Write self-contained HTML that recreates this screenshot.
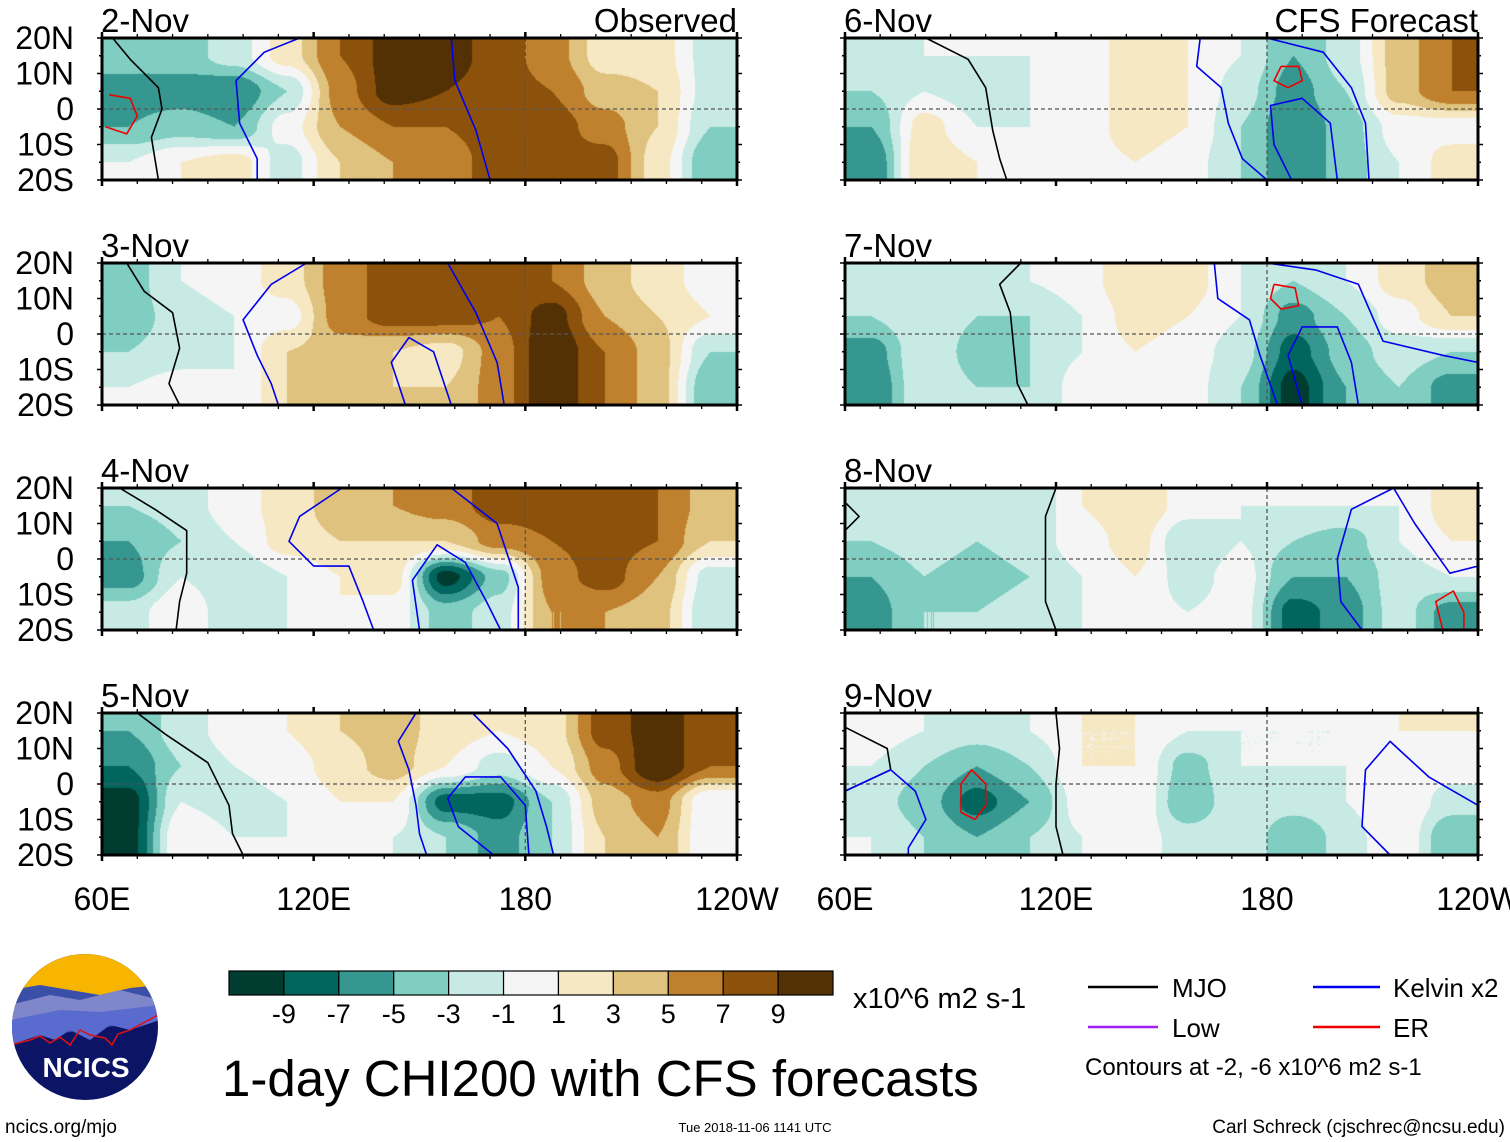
<!DOCTYPE html>
<html><head><meta charset="utf-8">
<style>
html,body{margin:0;padding:0;background:#fff;}
#root{position:relative;width:1510px;height:1142px;overflow:hidden;font-family:"Liberation Sans",sans-serif;}
svg text{font-family:"Liberation Sans",sans-serif;}
</style></head>
<body>
<div id="root">
<svg id="fig" width="1510" height="1142" xmlns="http://www.w3.org/2000/svg"></svg>
</div>
<script>
// ---- data ----
const levels = [-9,-7,-5,-3,-1,1,3,5,7,9];
const levelLabels = ["-9","-7","-5","-3","-1","1","3","5","7","9"];
const colors = ["#003c30","#01665e","#35978f","#80cdc1","#c7eae5","#f5f5f5","#f6e8c3","#dfc27d","#bf812d","#8c510a","#543005"];
const panelDates = ["2-Nov","3-Nov","4-Nov","5-Nov","6-Nov","7-Nov","8-Nov","9-Nov"];
const lonTicks = [60,120,180,240];
const lonTickLabels = ["60E","120E","180","120W"];
const latTicks = [20,10,0,-10,-20];
const latTickLabels = ["20N","10N","0","10S","20S"];
// grid: 12 columns (60E..240E, 15deg each), 4 rows (15N,5N,5S,15S)
const field2Nov = [[-4,-4,-2,2,7,10,10,8,6,2,2,-2],[-6,-6,-7,-3,6,10,9,8,7,4,3,-2],[-5,-4,-5,0,5,7,7,8,8,6,3,-3],[-1,1,2,-2,3,5,6,8,8,8,2,-5]];
const field3Nov = [[-4,-1,0,2,6,8,8,8,7,4,2,0],[-4,-2,-1,0,6,8,8,7,10,5,3,1],[-3,-2,-1,3,4,3,2,6,11,7,4,-3],[-1,0,-1,3,5,3,3,6,11,7,4,-5]];
const field4Nov = [[-3,-2,0,2,4,5,6,8,8,8,7,4],[-5,-3,-1,2,3,3,3,6,7,8,7,3],[-6,-1,-3,-1,1,2,-10,-4,6,8,5,-2],[-2,1,-3,-1,1,0,-4,-2,5,5,4,-3]];
const field5Nov = [[-5,-2,0,1,3,4,2,1,2,8,10,8],[-7,-3,-1,0,2,4,1,-2,1,6,11,7],[-10,-1,-2,-1,1,1,-8,-8,-3,4,6,-1],[-10,1,-1,-1,0,-1,-3,-6,-3,3,5,-1]];
const field6Nov = [[-2,-1,-1,-1,0,2,1,-1,-5,-2,4,7],[-3,-1,-2,-1,0,2,1,-2,-6,-3,4,7],[-5,2,-1,-1,0,2,1,-3,-7,-4,0,0],[-7,3,1,-1,0,1,0,-3,-7,-4,-1,2]];
const field7Nov = [[-2,-1,-3,-1,0,3,2,-1,-3,-1,2,4],[-3,-1,-3,-3,-1,2,1,-1,-6,-3,0,3],[-6,-1,-4,-3,-1,1,0,-2,-8,-4,-2,-3],[-7,-1,-3,-3,0,1,0,-3,-10,-5,-3,-6]];
const field8Nov = [[-2,-1,-2,-3,1,3,0,-1,-1,-1,-1,2],[-3,-2,-3,-2,0,2,-3,-1,-3,-4,-1,1],[-5,-3,-4,-3,-1,1,-2,0,-5,-5,-2,-1],[-6,-3,-3,-2,-1,0,-1,0,-8,-6,-2,-6]];
const field9Nov = [[0,-1,-2,-1,1,1,-1,-1,-1,-1,1,1],[-1,-3,-5,-3,1,1,-4,-1,-1,-1,1,0],[-2,-4,-8,-5,0,1,-5,-1,-2,-1,1,-2],[-1,-3,-5,-3,-1,0,-2,-1,-5,-2,1,-5]];
const fields = [field2Nov,field3Nov,field4Nov,field5Nov,field6Nov,field7Nov,field8Nov,field9Nov];
// contours [type, [[lon,lat],...]]
const contours2Nov = [["mjo",[[63,20],[68,14],[76,6],[77,0],[74,-8],[76,-20]]],["kelvin",[[116,20],[106,16],[98,8],[99,-4],[104,-14],[104,-20]]],["kelvin",[[159,20],[160,8],[166,-6],[170,-20]]],["er",[[62,4],[68,3],[70,-2],[67,-7],[61,-5]]]];
const contours3Nov = [["mjo",[[67,20],[72,12],[80,6],[82,-4],[79,-14],[82,-20]]],["kelvin",[[118,20],[108,14],[100,4],[104,-6],[108,-14],[110,-20]]],["kelvin",[[158,20],[166,6],[172,-8],[174,-20]]],["kelvin",[[146,-20],[142,-8],[147,-1],[154,-5],[159,-20]]]];
const contours4Nov = [["mjo",[[65,20],[75,14],[84,8],[84,-4],[82,-12],[81,-20]]],["kelvin",[[128,20],[116,12],[113,5],[120,-2],[130,-2],[134,-12],[137,-20]]],["kelvin",[[159,20],[172,10],[178,-8],[178,-20]]],["kelvin",[[150,-20],[148,-6],[155,4],[163,-1],[169,-12],[173,-20]]]];
const contours5Nov = [["mjo",[[70,20],[78,14],[90,6],[96,-6],[97,-14],[100,-20]]],["kelvin",[[149,20],[144,12],[147,4],[149,-6],[150,-14],[152,-20]]],["kelvin",[[165,20],[175,10],[183,-2],[186,-12],[188,-20]]],["kelvin",[[171,-20],[161,-12],[158,-4],[163,2],[173,2],[180,-6],[181,-20]]]];
const contours6Nov = [["mjo",[[83,20],[95,14],[100,6],[102,-6],[104,-14],[106,-20]]],["kelvin",[[161,20],[160,12],[167,6],[169,-4],[173,-14],[180,-20]]],["kelvin",[[187,-20],[182,-10],[181,1],[190,3],[198,-4],[200,-20]]],["kelvin",[[180,20],[196,16],[204,6],[208,-4],[209,-20]]],["er",[[184,12],[189,12],[190,8],[186,6],[182,8],[184,12]]]];
const contours7Nov = [["mjo",[[110,20],[104,14],[107,6],[108,-4],[109,-14],[112,-20]]],["kelvin",[[165,20],[166,10],[175,4],[178,-6],[183,-20]]],["kelvin",[[190,-20],[186,-6],[190,2],[200,2],[204,-8],[206,-20]]],["kelvin",[[180,20],[194,18],[206,14],[213,-2],[230,-6],[240,-8]]],["er",[[182,14],[188,13],[189,8],[184,7],[181,10],[182,14]]]];
const contours8Nov = [["mjo",[[120,20],[117,12],[117,0],[117,-12],[120,-20]]],["mjo",[[60,16],[64,12],[60,8]]],["kelvin",[[216,20],[204,14],[200,0],[201,-12],[207,-20]]],["kelvin",[[216,20],[222,10],[232,-4],[240,-2]]],["er",[[230,-20],[228,-12],[233,-9],[236,-15],[236,-20]]]];
const contours9Nov = [["mjo",[[120,20],[121,10],[120,0],[120,-12],[122,-20]]],["mjo",[[60,16],[72,10],[73,4],[60,-2]]],["kelvin",[[60,-2],[73,4],[80,-2],[83,-10],[78,-18],[78,-20]]],["kelvin",[[215,-20],[207,-12],[208,4],[215,12],[226,2],[240,-6]]],["er",[[97,-10],[100,-6],[100,0],[96,4],[93,0],[93,-8],[97,-10]]]];
const contoursAll = [contours2Nov,contours3Nov,contours4Nov,contours5Nov,contours6Nov,contours7Nov,contours8Nov,contours9Nov];
const contourColors = {mjo:"#000",kelvin:"#0000ee",er:"#ee0000",low:"#a020f0"};

// ---- layout ----
const NS="http://www.w3.org/2000/svg";
const svg=document.getElementById('fig');
const colX=[[102,737],[845,1478]];
const rowTop=[38,263,488,713];
const PH=142;
function mk(tag,attrs,parent){const e=document.createElementNS(NS,tag);for(const k in attrs)e.setAttribute(k,attrs[k]);(parent||svg).appendChild(e);return e;}
function colorFor(v){let i=0;while(i<levels.length&&v>=levels[i])i++;return colors[i];}
function sample(f,gx,gy){
  gx=Math.max(0,Math.min(11,gx));gy=Math.max(0,Math.min(3,gy));
  const x0=Math.floor(gx),y0=Math.floor(gy),x1=Math.min(11,x0+1),y1=Math.min(3,y0+1);
  let fx=gx-x0,fy=gy-y0;
  fx=fx*fx*(3-2*fx);fy=fy*fy*(3-2*fy);
  return f[y0][x0]*(1-fx)*(1-fy)+f[y0][x1]*fx*(1-fy)+f[y1][x0]*(1-fx)*fy+f[y1][x1]*fx*fy;
}

for(let p=0;p<8;p++){
  const c=p<4?0:1, r=p%4;
  const x0=colX[c][0], x1=colX[c][1], W=x1-x0, top=rowTop[r];
  const xs=lon=>x0+(lon-60)/180*W;
  const ys=lat=>top+(20-lat)/40*PH;
  const g=mk('g',{});
  
  
  const fo=mk('foreignObject',{x:x0,y:top,width:W,height:PH},g);
  const cv=document.createElement('canvas');cv.width=W;cv.height=PH;
  cv.style.display='block';
  
  
  fo.appendChild(cv);
  const ctx=cv.getContext('2d');
  const f=fields[p];
  const step=1;
  for(let py=0;py<PH;py+=step){for(let px=0;px<W;px+=step){
    const v=sample(f,(px+0.5)/W*12-0.5,(py+0.5)/PH*4-0.5);
    ctx.fillStyle=colorFor(v);ctx.fillRect(px,py,step,step);
  }}
  const eq=mk('line',{x1:x0,x2:x1,y1:ys(0),y2:ys(0),stroke:'#555','stroke-dasharray':'4,3','stroke-width':1.3},g);
  
  const dl=mk('line',{x1:xs(180),x2:xs(180),y1:top,y2:top+PH,stroke:'#555','stroke-dasharray':'4,3','stroke-width':1.3},g);
  
  contoursAll[p].forEach(ct=>{
    const d=ct[1].map((q,i)=>(i?'L':'M')+xs(q[0]).toFixed(1)+' '+ys(q[1]).toFixed(1)).join(' ');
    const pe=mk('path',{d:d,fill:'none',stroke:contourColors[ct[0]],'stroke-width':1.6,'stroke-linejoin':'round'},g);
    
    
  });
  const fr=mk('rect',{x:x0,y:top,width:W,height:PH,fill:'none',stroke:'#000','stroke-width':3},g);
  
  for(let lon=60;lon<=240;lon+=10){
    const maj=lonTicks.includes(lon);const L=maj?6:4;
    mk('line',{x1:xs(lon),x2:xs(lon),y1:top-L,y2:top,stroke:'#000','stroke-width':maj?2.5:1.3},g);
    mk('line',{x1:xs(lon),x2:xs(lon),y1:top+PH,y2:top+PH+L,stroke:'#000','stroke-width':maj?2.5:1.3},g);
  }
  for(let lat=-20;lat<=20;lat+=5){
    const L=lat%10===0?5:3;
    mk('line',{x1:x0-L,x2:x0,y1:ys(lat),y2:ys(lat),stroke:'#000','stroke-width':1.5},g);
    mk('line',{x1:x1,x2:x1+L,y1:ys(lat),y2:ys(lat),stroke:'#000','stroke-width':1.5},g);
  }
  const t=mk('text',{x:x0-1,y:top-6,'font-size':33},g);t.textContent=panelDates[p];
  
  if(r===0){
    const tt=mk('text',{x:x1,y:top-6,'font-size':33,'text-anchor':'end'},g);
    tt.textContent=c===0?'Observed':'CFS Forecast';
    
  }
  if(c===0){
    latTicks.forEach((lat,i)=>{
      const lt=mk('text',{x:74,y:ys(lat)+11,'font-size':32,'text-anchor':'end'},g);
      lt.textContent=latTickLabels[i];
      
    });
  }
  if(r===3){
    lonTicks.forEach((lon,i)=>{
      const xt=mk('text',{x:xs(lon),y:910,'font-size':32,'text-anchor':'middle'},g);
      xt.textContent=lonTickLabels[i];
      
    });
  }
}

const cb=mk('g',{});

const cbx=229,cbw=604/colors.length;
colors.forEach((col,i)=>{
  const rr=mk('rect',{x:cbx+i*cbw,y:971,width:cbw,height:24,fill:col,stroke:'#000','stroke-width':1.2},cb);
  
});
levelLabels.forEach((lab,i)=>{
  const tl=mk('text',{x:cbx+(i+1)*cbw,y:1023,'font-size':27,'text-anchor':'middle'},cb);
  tl.textContent=lab;
});
</script>
<svg width="1510" height="1142" style="position:absolute;left:0;top:0">
  <text x="853" y="1008" font-size="29" font-family="Liberation Sans, sans-serif">x10^6 m2 s-1</text>
  <text x="222" y="1096" font-size="51" font-family="Liberation Sans, sans-serif">1-day CHI200 with CFS forecasts</text>
  <g>
    <line x1="1088" x2="1158" y1="987" y2="987" stroke="#000" stroke-width="2.5"/>
    <text x="1172" y="997" font-size="26" font-family="Liberation Sans, sans-serif">MJO</text>
    <line x1="1313" x2="1380" y1="987" y2="987" stroke="#0000ee" stroke-width="2.5"/>
    <text x="1393" y="997" font-size="26" font-family="Liberation Sans, sans-serif">Kelvin x2</text>
    <line x1="1088" x2="1158" y1="1027" y2="1027" stroke="#a020f0" stroke-width="2.5"/>
    <text x="1172" y="1037" font-size="26" font-family="Liberation Sans, sans-serif">Low</text>
    <line x1="1313" x2="1380" y1="1027" y2="1027" stroke="#ee0000" stroke-width="2.5"/>
    <text x="1393" y="1037" font-size="26" font-family="Liberation Sans, sans-serif">ER</text>
    <text x="1085" y="1075" font-size="24" font-family="Liberation Sans, sans-serif">Contours at -2, -6 x10^6 m2 s-1</text>
  </g>
  <g>
    <defs><clipPath id="lc"><circle cx="85" cy="1027" r="73"/></clipPath></defs>
    <g clip-path="url(#lc)">
      <rect x="10" y="950" width="150" height="155" fill="#0c1466"/>
      <rect x="10" y="950" width="150" height="50" fill="#f7b500"/>
      <path d="M10 990 L40 985 L70 990 L100 995 L130 988 L160 985 L160 1020 L10 1040 Z" fill="#3a4fa8"/>
      <path d="M10 1005 L50 995 L80 1000 L120 990 L160 1000 L160 1020 L10 1035 Z" fill="#7f86c9"/>
      <path d="M10 1020 L60 1010 L100 1012 L160 1005 L160 1020 L130 1030 L110 1025 L90 1040 L70 1030 L55 1040 L40 1035 L10 1045 Z" fill="#5a6bd0"/>
      <path d="M10 1045 L30 1040 L40 1036 L50 1043 L60 1037 L70 1045 L80 1030 L90 1035 L105 1038 L112 1045 L118 1034 L130 1030 L160 1014" fill="none" stroke="#e01010" stroke-width="1.5"/>
    </g>
    <text x="86" y="1077" font-size="28" font-weight="bold" fill="#fff" text-anchor="middle" font-family="Liberation Sans, sans-serif">NCICS</text>
  </g>
  <text x="5" y="1133" font-size="19" font-family="Liberation Sans, sans-serif">ncics.org/mjo</text>
  <text x="755" y="1132" font-size="13" text-anchor="middle" font-family="Liberation Sans, sans-serif">Tue 2018-11-06 1141 UTC</text>
  <text x="1505" y="1133" font-size="19" text-anchor="end" font-family="Liberation Sans, sans-serif">Carl Schreck (cjschrec@ncsu.edu)</text>
</svg>
</body></html>
